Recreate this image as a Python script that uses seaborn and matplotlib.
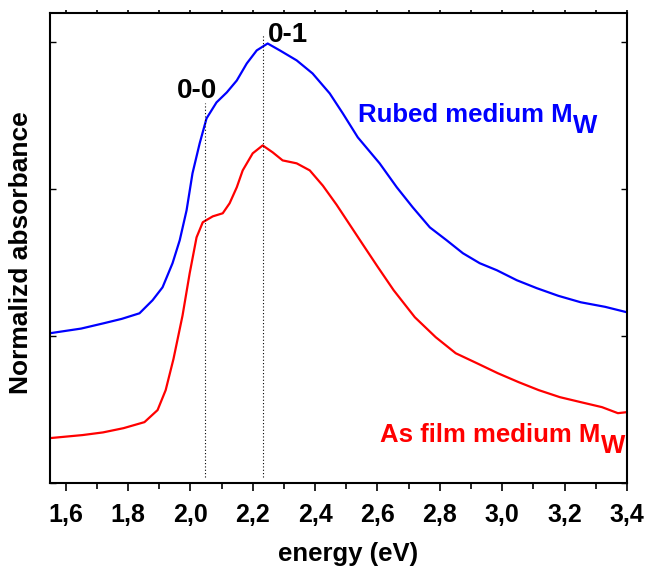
import numpy as np
import pandas as pd
import matplotlib
matplotlib.use('Agg')
import matplotlib.pyplot as plt
from matplotlib.ticker import MultipleLocator, FuncFormatter
import seaborn as sns

# spectra (energy in eV, normalized absorbance, offset)
rubbed_energy = [1.549, 1.650, 1.722, 1.780, 1.837, 1.879, 1.911, 1.943, 1.966, 1.988,
                 2.007, 2.030, 2.052, 2.084, 2.117, 2.149, 2.181, 2.213, 2.248, 2.287,
                 2.341, 2.392, 2.447, 2.489, 2.537, 2.607, 2.662, 2.713, 2.768, 2.822,
                 2.874, 2.928, 2.983, 3.047, 3.111, 3.180, 3.252, 3.330, 3.400]
rubbed_abs = [1.020, 1.052, 1.088, 1.118, 1.156, 1.245, 1.333, 1.497, 1.653, 1.857,
              2.109, 2.313, 2.483, 2.592, 2.660, 2.741, 2.857, 2.946, 2.993, 2.946,
              2.878, 2.789, 2.653, 2.517, 2.354, 2.177, 2.014, 1.878, 1.741, 1.653,
              1.565, 1.497, 1.449, 1.381, 1.327, 1.275, 1.231, 1.200, 1.163]

film_energy = [1.549, 1.655, 1.720, 1.786, 1.853, 1.895, 1.921, 1.946, 1.975, 1.998,
               2.020, 2.040, 2.072, 2.104, 2.126, 2.149, 2.168, 2.200, 2.232, 2.264,
               2.296, 2.341, 2.383, 2.425, 2.469, 2.511, 2.553, 2.600, 2.652, 2.720,
               2.787, 2.851, 2.919, 2.986, 3.053, 3.117, 3.185, 3.252, 3.320, 3.371,
               3.400]
film_abs = [0.306, 0.327, 0.345, 0.374, 0.415, 0.497, 0.633, 0.845, 1.140, 1.429,
            1.673, 1.776, 1.816, 1.837, 1.905, 2.014, 2.129, 2.245, 2.299, 2.252,
            2.197, 2.177, 2.129, 2.025, 1.895, 1.760, 1.625, 1.475, 1.313, 1.129,
            0.993, 0.884, 0.816, 0.748, 0.687, 0.633, 0.585, 0.551, 0.517, 0.476,
            0.483]

peak_pos = [2.046, 2.232]
peak_names = ['0-0', '0-1']
peak_top = [2.59, 3.05]

df = pd.concat([
    pd.DataFrame({'energy': rubbed_energy, 'abs': rubbed_abs, 'sample': 'rubbed'}),
    pd.DataFrame({'energy': film_energy, 'abs': film_abs, 'sample': 'film'}),
])

sns.set_style('ticks')
plt.rcParams['font.family'] = ['Liberation Sans', 'DejaVu Sans']
plt.rcParams['font.weight'] = 'bold'
for key in ['text.color', 'axes.labelcolor', 'xtick.color', 'ytick.color', 'axes.edgecolor']:
    plt.rcParams[key] = 'black'

fig = plt.figure(figsize=(6.49, 5.69), dpi=100)
ax = fig.add_axes([0.077, 0.151, 0.889, 0.826])

sns.lineplot(data=df, x='energy', y='abs', hue='sample',
             palette={'rubbed': '#0000ff', 'film': '#ff0000'},
             linewidth=1.6, legend=False, ax=ax, sort=False)

for x, top in zip(peak_pos, peak_top):
    ax.plot([x, x], [0.04, top], color='black', linestyle=(0, (1, 2)), linewidth=0.8)

ax.text(2.023, 2.62, peak_names[0], ha='center', va='baseline', fontsize=20, fontweight='bold')
ax.text(2.312, 3.0, peak_names[1], ha='center', va='baseline', fontsize=20, fontweight='bold')


def label_mw(x, y, text, color):
    # subscript W drawn at full size, shifted down like in the original
    t = ax.text(x, y, text + ' M', color=color, fontsize=18.5, fontweight='bold',
                ha='left', va='baseline')
    ax.annotate('W', xy=(1, 0), xycoords=t, xytext=(0.5, -8), textcoords='offset points',
                color=color, fontsize=18.5, fontweight='bold', ha='left', va='bottom')


label_mw(2.537, 2.456, 'Rubed medium', '#0000ff')
label_mw(2.607, 0.279, 'As film medium', '#ff0000')

ax.set_xlim(1.55, 3.4)
ax.set_ylim(0, 3.2)
ax.xaxis.set_major_locator(MultipleLocator(0.2))
ax.xaxis.set_minor_locator(MultipleLocator(0.1))
ax.xaxis.set_major_formatter(FuncFormatter(lambda v, p: f'{v:.1f}'.replace('.', ',')))
ax.yaxis.set_major_locator(MultipleLocator(1))
ax.set_yticklabels([])

for s in ax.spines.values():
    s.set_visible(True)
    s.set_linewidth(1.5)

ax.tick_params(axis='x', which='major', direction='out', length=6, width=1.2,
               labelsize=18, top=True, pad=8)
ax.tick_params(axis='x', which='minor', direction='out', length=4, width=1.2, top=True)
ax.xaxis.set_tick_params(which='both', labeltop=False)
ax.tick_params(axis='y', which='major', direction='in', length=4, width=1.0,
               left=True, right=True)
for t in ax.xaxis.get_majorticklines()[1::2] + ax.xaxis.get_minorticklines()[1::2]:
    t.set_markersize(2)
for lbl in ax.get_xticklabels():
    lbl.set_fontweight('bold')

ax.set_xlabel('energy (eV)', fontsize=18.5, fontweight='bold')
ax.set_ylabel('Normalizd absorbance', fontsize=19, fontweight='bold')
ax.xaxis.set_label_coords(0.517, -0.125)
ax.yaxis.set_label_coords(-0.03, 0.49)

fig.savefig('out.png', dpi=100)
